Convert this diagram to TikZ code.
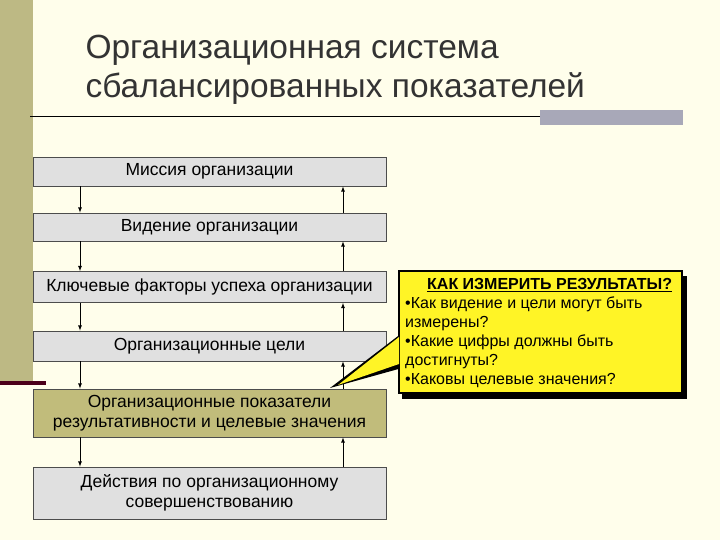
\documentclass[tikz,border=0pt]{standalone}
\usepackage{fontspec}
\setmainfont{Liberation Sans}
\definecolor{gbar}{HTML}{A8A8B8}
\begin{document}
\begin{tikzpicture}[x=1pt,y=-1pt,
  box/.style={draw=black!70,fill=black!12,line width=0.8pt,font=\fontsize{17.5}{20}\selectfont,align=center,inner sep=0pt},
  arr/.style={-latex,line width=0.8pt}]
\fill[yellow!8] (0,0) rectangle (720,540);
\useasboundingbox (0,0) rectangle (720,540);
\fill[olive!35!white!85!black] (0,0) rectangle (33,383);
\fill[black!60!purple] (0,381) rectangle (46,385);
\draw[line width=1pt] (30,117) -- (540,117);
\fill[gbar] (540,110) rectangle (683,125);
\node[anchor=west,font=\fontsize{33.5}{39}\selectfont,text=black!80,align=left] (title) at (82,70) {Организационная система\\сбалансированных показателей};
\node[box,minimum width=353,minimum height=29] (b1) at (209.5,171.5) {Миссия организации};
\node[box,minimum width=353,minimum height=28] (b2) at (209.5,227) {Видение организации};
\node[box,minimum width=353,minimum height=31] (b3) at (209.5,287) {Ключевые факторы успеха организации};
\node[box,minimum width=353,minimum height=30] (b4) at (209.5,346) {Организационные цели};
\node[box,fill=olive!40!white!90!black,minimum width=353,minimum height=48] (b5) at (209.5,413) {Организационные показатели\\результативности и целевые значения};
\node[box,minimum width=353,minimum height=52] (b6) at (209.5,493) {Действия по организационному\\совершенствованию};
\foreach \a/\b in {b1/b2,b2/b3,b3/b4,b4/b5,b5/b6}{
  \draw[arr] (\a.south -| 80,0) -- (\b.north -| 80,0);
  \draw[arr] (\b.north -| 343,0) -- (\a.south -| 343,0);
}
\coordinate (tip) at (330,388);
\fill[black] (402,333) -- (tip) -- (402,368) -- cycle;
\fill[black] (402,276) rectangle (687,399);
\node[draw=black,line width=2pt,fill=yellow!85!white,minimum width=283,minimum height=122,inner sep=0pt] (call) at (540.5,332) {};
\fill[yellow!85!white] (399,337) -- (338,385) -- (399,364) -- cycle;
\node[anchor=north west,align=left,font=\fontsize{16}{19}\selectfont,inner sep=0pt] (ct) at (405,278) {\hspace*{22pt}\textbf{\underline{КАК ИЗМЕРИТЬ РЕЗУЛЬТАТЫ?}}\\•Как видение и цели могут быть\\измерены?\\•Какие цифры должны быть\\достигнуты?\\•Каковы целевые значения?};
\end{tikzpicture}
\end{document}
